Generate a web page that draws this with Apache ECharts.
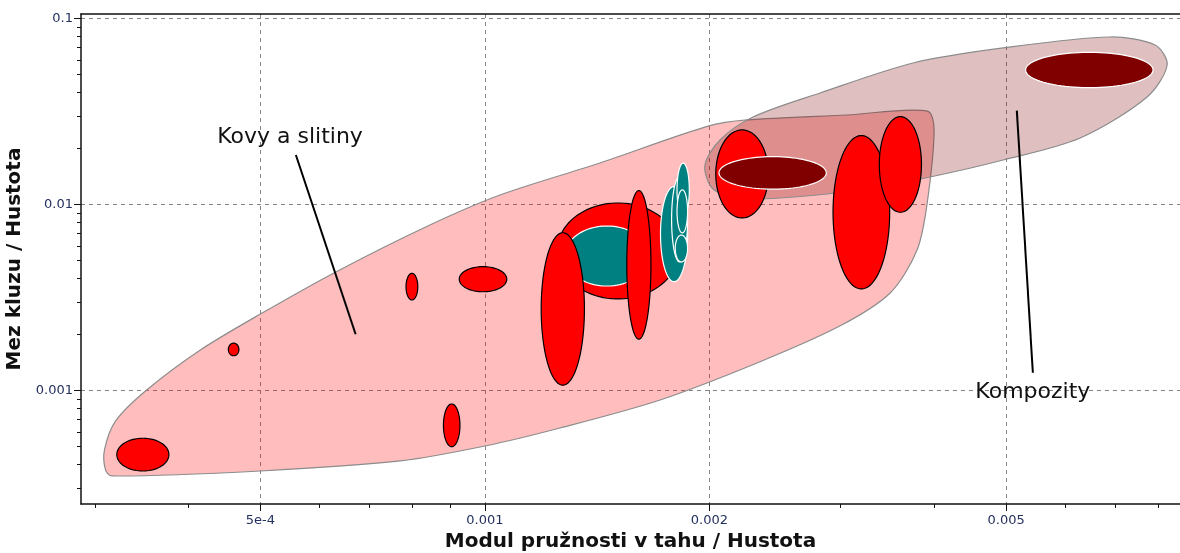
<!DOCTYPE html>
<html>
<head>
<meta charset="utf-8">
<script src="https://cdn.jsdelivr.net/npm/echarts@6/dist/echarts.min.js"></script>
<style>
  html, body { margin: 0; padding: 0; background: #fff; }
  #chart { width: 1180px; height: 553px; }
</style>
</head>
<body>
<div id="chart"></div>
<script>
// axis ticks (real values, axes are drawn in log10 space)
const xMajorTicks = [5e-4, 0.001, 0.002, 0.005];
const xMajorLabels = ["5e-4", "0.001", "0.002", "0.005"];
const xMinorTicks = [3e-4, 4e-4, 6e-4, 7e-4, 8e-4, 9e-4, 3e-3, 4e-3, 6e-3, 7e-3, 8e-3];
const yMajorTicks = [0.001, 0.01, 0.1];
const yMajorLabels = ["0.001", "0.01", "0.1"];
const yMinorTicks = [3e-4, 4e-4, 5e-4, 6e-4, 7e-4, 8e-4, 9e-4,
  2e-3, 3e-3, 4e-3, 5e-3, 6e-3, 7e-3, 8e-3, 9e-3,
  2e-2, 3e-2, 4e-2, 5e-2, 6e-2, 7e-2, 8e-2, 9e-2];
const xRange = [2.874e-4, 8.553e-3];
const yRange = [2.46e-4, 0.1057];

// material bubbles: ranges of E/rho and yield/rho
const bubbleKind = ["kov", "teal", "kov", "kov", "teal", "teal", "teal", "teal", "teal",
  "kov", "komp", "kov", "kov", "komp", "kov", "kov", "kov", "kov", "kov"];
const bubbleXLow = [1.25e-3, 1.28e-3, 1.19e-3, 1.55e-3, 1.72e-3, 1.78e-3, 1.81e-3, 1.81e-3, 1.80e-3,
  2.04e-3, 2.06e-3, 2.93e-3, 3.38e-3, 5.31e-3, 3.21e-4, 4.53e-4, 7.84e-4, 9.24e-4, 8.80e-4];
const bubbleXHigh = [1.82e-3, 1.66e-3, 1.36e-3, 1.67e-3, 1.87e-3, 1.87e-3, 1.88e-3, 1.87e-3, 1.87e-3,
  2.40e-3, 2.87e-3, 3.49e-3, 3.85e-3, 7.87e-3, 3.77e-4, 4.68e-4, 8.13e-4, 1.07e-3, 9.26e-4];
const bubbleYLow = [3.11e-3, 3.65e-3, 1.07e-3, 1.89e-3, 3.85e-3, 4.92e-3, 8.58e-3, 7.04e-3, 4.92e-3,
  8.47e-3, 1.21e-2, 3.52e-3, 9.09e-3, 4.25e-2, 3.70e-4, 1.54e-3, 3.07e-3, 3.40e-3, 5.00e-4];
const bubbleYHigh = [1.02e-2, 7.67e-3, 7.06e-3, 1.19e-2, 1.25e-2, 1.41e-2, 1.67e-2, 1.20e-2, 6.86e-3,
  2.52e-2, 1.81e-2, 2.35e-2, 2.97e-2, 6.58e-2, 5.55e-4, 1.80e-3, 4.27e-3, 4.64e-3, 8.48e-4];

// family envelopes, outline points [E/rho, yield/rho]
const kovyEnvelope = [
  [3.16e-4, 3.48e-4], [5.00e-4, 3.70e-4], [7.70e-4, 4.19e-4], [1.00e-3, 5.04e-4],
  [1.261e-3, 6.30e-4], [1.718e-3, 8.91e-4], [2.339e-3, 1.43e-3], [2.995e-3, 2.23e-3],
  [3.495e-3, 3.35e-3], [3.798e-3, 5.70e-3], [3.917e-3, 1.007e-2], [4.003e-3, 2.52e-2],
  [3.92e-3, 3.18e-2], [3.06e-3, 3.03e-2], [2.247e-3, 2.85e-2], [1.992e-3, 2.64e-2],
  [1.427e-3, 1.673e-2], [1.048e-3, 1.126e-2], [8.44e-4, 7.77e-3], [6.35e-4, 4.40e-3],
  [5.00e-4, 2.58e-3], [4.15e-4, 1.65e-3], [3.52e-4, 1.009e-3], [3.20e-4, 6.90e-4],
  [3.09e-4, 4.80e-4], [3.10e-4, 3.75e-4]
];
const kompozityEnvelope = [
  [1.973e-3, 1.63e-2], [2.017e-3, 1.228e-2], [2.165e-3, 1.085e-2], [2.489e-3, 1.085e-2],
  [3.185e-3, 1.198e-2], [3.954e-3, 1.407e-2], [4.954e-3, 1.736e-2], [6.284e-3, 2.28e-2],
  [7.727e-3, 3.787e-2], [8.22e-3, 5.625e-2], [7.921e-3, 7.203e-2], [6.892e-3, 7.953e-2],
  [4.954e-3, 6.944e-2], [3.751e-3, 5.767e-2], [2.815e-3, 3.978e-2], [2.289e-3, 2.956e-2],
  [2.067e-3, 2.224e-2]
];

// annotations
const noteNames = ["Kovy a slitiny", "Kompozity"];
const noteTextX = [5.48e-4, 5.43e-3];
const noteTextY = [2.31e-2, 9.84e-4];
const noteFromX = [5.58e-4, 5.168e-3];
const noteFromY = [1.847e-2, 3.196e-2];
const noteToX = [6.71e-4, 5.43e-3];
const noteToY = [2.01e-3, 1.249e-3];

const lg = Math.log10;
const kindStyle = {
  kov: { fill: "#ff0000", stroke: "#000000" },
  teal: { fill: "#008080", stroke: "#ffffff" },
  komp: { fill: "#800000", stroke: "#ffffff" }
};

function labelFor(ticks, labels) {
  return (v) => {
    const i = ticks.findIndex((t) => Math.abs(lg(t) - v) < 1e-6);
    return i >= 0 ? labels[i] : "";
  };
}

const chart = echarts.init(document.getElementById("chart"));
const dash = { color: "#858585", type: [4, 4], width: 1 };
const labelStyle = { color: "#23305e", fontFamily: "DejaVu Sans", fontSize: 13 };

const option = {
  animation: false,
  grid: { left: 81, right: 0, top: 14, bottom: 49, outerBoundsMode: "none" },
  xAxis: [
    {
      type: "value", position: "bottom", offset: 0,
      min: lg(xRange[0]), max: lg(xRange[1]),
      name: "Modul pružnosti v tahu / Hustota", nameLocation: "middle", nameGap: 27,
      nameTextStyle: { fontFamily: "DejaVu Sans", fontWeight: "bold", fontSize: 20, color: "#111" },
      axisLine: { show: true, lineStyle: { color: "#111", width: 1.5 } },
      axisTick: { show: true, length: 7, customValues: xMajorTicks.map(lg), lineStyle: { color: "#111" } },
      axisLabel: Object.assign({ customValues: xMajorTicks.map(lg), margin: 10,
        formatter: labelFor(xMajorTicks, xMajorLabels) }, labelStyle),
      splitLine: { show: true, lineStyle: dash }
    },
    {
      type: "value", position: "bottom", offset: 0,
      min: lg(xRange[0]), max: lg(xRange[1]),
      axisLine: { show: false },
      axisTick: { show: true, length: 4, customValues: xMinorTicks.map(lg), lineStyle: { color: "#111" } },
      axisLabel: { show: false },
      splitLine: { show: false }
    },
    {
      type: "value", position: "top", offset: 0,
      min: lg(xRange[0]), max: lg(xRange[1]),
      axisLine: { show: true, lineStyle: { color: "#111", width: 1.5 } },
      axisTick: { show: false }, axisLabel: { show: false }, splitLine: { show: false }
    }
  ],
  yAxis: [
    {
      type: "value", position: "left", offset: 0,
      min: lg(yRange[0]), max: lg(yRange[1]),
      name: "Mez kluzu / Hustota", nameLocation: "middle", nameGap: 48,
      nameTextStyle: { fontFamily: "DejaVu Sans", fontWeight: "bold", fontSize: 20, color: "#111" },
      axisLine: { show: true, lineStyle: { color: "#111", width: 1.5 } },
      axisTick: { show: true, length: 7, customValues: yMajorTicks.map(lg), lineStyle: { color: "#111" } },
      axisLabel: Object.assign({ customValues: yMajorTicks.map(lg), margin: 8,
        formatter: labelFor(yMajorTicks, yMajorLabels) }, labelStyle),
      splitLine: { show: true, lineStyle: dash }
    },
    {
      type: "value", position: "left", offset: 0,
      min: lg(yRange[0]), max: lg(yRange[1]),
      axisLine: { show: false },
      axisTick: { show: true, length: 4, customValues: yMinorTicks.map(lg), lineStyle: { color: "#111" } },
      axisLabel: { show: false },
      splitLine: { show: false }
    }
  ],
  series: [
    {
      // envelopes
      type: "custom",
      xAxisIndex: 0, yAxisIndex: 0,
      data: [[lg(1e-3), lg(5e-3)], [lg(4e-3), lg(3e-2)]],
      renderItem: (params, api) => {
        const env = params.dataIndex === 0 ? kovyEnvelope : kompozityEnvelope;
        const pts = env.map((p) => api.coord([lg(p[0]), lg(p[1])]));
        return {
          type: "polygon",
          shape: { points: pts, smooth: 0.3 },
          style: {
            fill: params.dataIndex === 0 ? "rgba(255,0,0,0.26)" : "rgba(128,0,0,0.25)",
            stroke: "#8c8c8c", lineWidth: 1.2
          }
        };
      }
    },
    {
      // material bubbles
      type: "custom",
      xAxisIndex: 0, yAxisIndex: 0,
      data: bubbleKind.map((k, i) => [
        (lg(bubbleXLow[i]) + lg(bubbleXHigh[i])) / 2,
        (lg(bubbleYLow[i]) + lg(bubbleYHigh[i])) / 2,
        (lg(bubbleXHigh[i]) - lg(bubbleXLow[i])) / 2,
        (lg(bubbleYHigh[i]) - lg(bubbleYLow[i])) / 2
      ]),
      renderItem: (params, api) => {
        const c = api.coord([api.value(0), api.value(1)]);
        const e = api.coord([api.value(0) + api.value(2), api.value(1) + api.value(3)]);
        const rx = Math.abs(e[0] - c[0]);
        const ry = Math.abs(e[1] - c[1]);
        const pts = [];
        for (let k = 0; k < 90; k++) {
          const a = (k / 90) * Math.PI * 2;
          pts.push([c[0] + rx * Math.cos(a), c[1] + ry * Math.sin(a)]);
        }
        const st = kindStyle[bubbleKind[params.dataIndex]];
        return {
          type: "polygon",
          shape: { points: pts },
          style: { fill: st.fill, stroke: st.stroke, lineWidth: 1.2 }
        };
      }
    },
    {
      // annotations
      type: "custom",
      xAxisIndex: 0, yAxisIndex: 0,
      data: noteNames.map((n, i) => [lg(noteTextX[i]), lg(noteTextY[i])]),
      renderItem: (params, api) => {
        const i = params.dataIndex;
        const t = api.coord([lg(noteTextX[i]), lg(noteTextY[i])]);
        const a = api.coord([lg(noteFromX[i]), lg(noteFromY[i])]);
        const b = api.coord([lg(noteToX[i]), lg(noteToY[i])]);
        return {
          type: "group",
          children: [
            { type: "line", shape: { x1: a[0], y1: a[1], x2: b[0], y2: b[1] },
              style: { stroke: "#000", lineWidth: 2 } },
            { type: "text", x: t[0], y: t[1],
              style: { text: noteNames[i], fill: "#111", fontFamily: "DejaVu Sans", fontSize: 22,
                align: "center", verticalAlign: "middle" } }
          ]
        };
      }
    }
  ]
};

chart.setOption(option);
window.addEventListener("resize", () => chart.resize());
</script>
</body>
</html>
